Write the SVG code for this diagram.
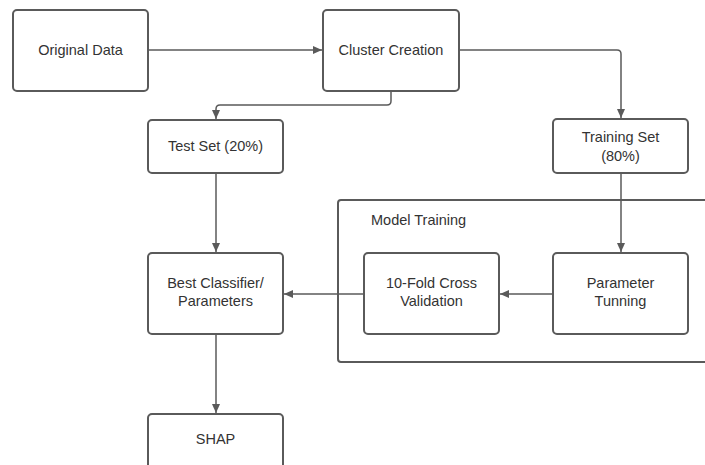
<svg xmlns="http://www.w3.org/2000/svg" width="705" height="465" viewBox="0 0 705 465">
<style>
.box{fill:#fff;stroke:#5a5a5a;stroke-width:2}
.cont{fill:none;stroke:#5a5a5a;stroke-width:2}
.con{fill:none;stroke:#5a5a5a;stroke-width:1.5}
text{font-family:"Liberation Sans",Arial,sans-serif;font-size:14.5px;fill:#333;text-anchor:middle;dominant-baseline:central}
</style>
<defs>
<marker id="arr" markerWidth="10" markerHeight="10" refX="9" refY="5" orient="auto" markerUnits="userSpaceOnUse">
<path d="M0,1 L9,5 L0,9 Z" fill="#5a5a5a"/>
</marker>
</defs>
<rect width="705" height="465" fill="#fff"/>
<g id="model-training">
<path class="cont" d="M706,200 H341 Q338,200 338,203 V359 Q338,362 341,362 H706"/>
<text x="371" y="220" style="text-anchor:start">Model Training</text>
</g>
<g id="connectors">
<path class="con" d="M148,50 H322" marker-end="url(#arr)"/>
<path class="con" d="M391,91 V101 Q391,105 387,105 H220 Q216,105 216,109 V119" marker-end="url(#arr)"/>
<path class="con" d="M459,50 H617 Q621,50 621,54 V118" marker-end="url(#arr)"/>
<path class="con" d="M621,173 V252" marker-end="url(#arr)"/>
<path class="con" d="M216,173 V252" marker-end="url(#arr)"/>
<path class="con" d="M553,294 H500" marker-end="url(#arr)"/>
<path class="con" d="M364,294 H284" marker-end="url(#arr)"/>
<path class="con" d="M216,334 V413" marker-end="url(#arr)"/>
</g>
<g id="original-data">
<rect class="box" x="13" y="10" width="135" height="81" rx="4"/>
<text x="80.5" y="50">Original Data</text>
</g>
<g id="cluster-creation">
<rect class="box" x="323" y="10" width="136" height="81" rx="4"/>
<text x="391" y="50">Cluster Creation</text>
</g>
<g id="test-set">
<rect class="box" x="148" y="120" width="135" height="53" rx="4"/>
<text x="215.5" y="146">Test Set (20%)</text>
</g>
<g id="training-set">
<rect class="box" x="553" y="119" width="135" height="54" rx="4"/>
<text x="620.5" y="137">Training Set</text>
<text x="620.5" y="156">(80%)</text>
</g>
<g id="best-classifier">
<rect class="box" x="148" y="253" width="135" height="81" rx="4"/>
<text x="215.5" y="283">Best Classifier/</text>
<text x="215.5" y="301">Parameters</text>
</g>
<g id="ten-fold">
<rect class="box" x="364" y="253" width="135" height="81" rx="4"/>
<text x="431.5" y="283">10-Fold Cross</text>
<text x="431.5" y="301">Validation</text>
</g>
<g id="parameter-tunning">
<rect class="box" x="553" y="253" width="135" height="81" rx="4"/>
<text x="620.5" y="283">Parameter</text>
<text x="620.5" y="301">Tunning</text>
</g>
<g id="shap">
<rect class="box" x="148" y="414" width="135" height="81" rx="4"/>
<text x="215.5" y="439">SHAP</text>
</g>
</svg>
